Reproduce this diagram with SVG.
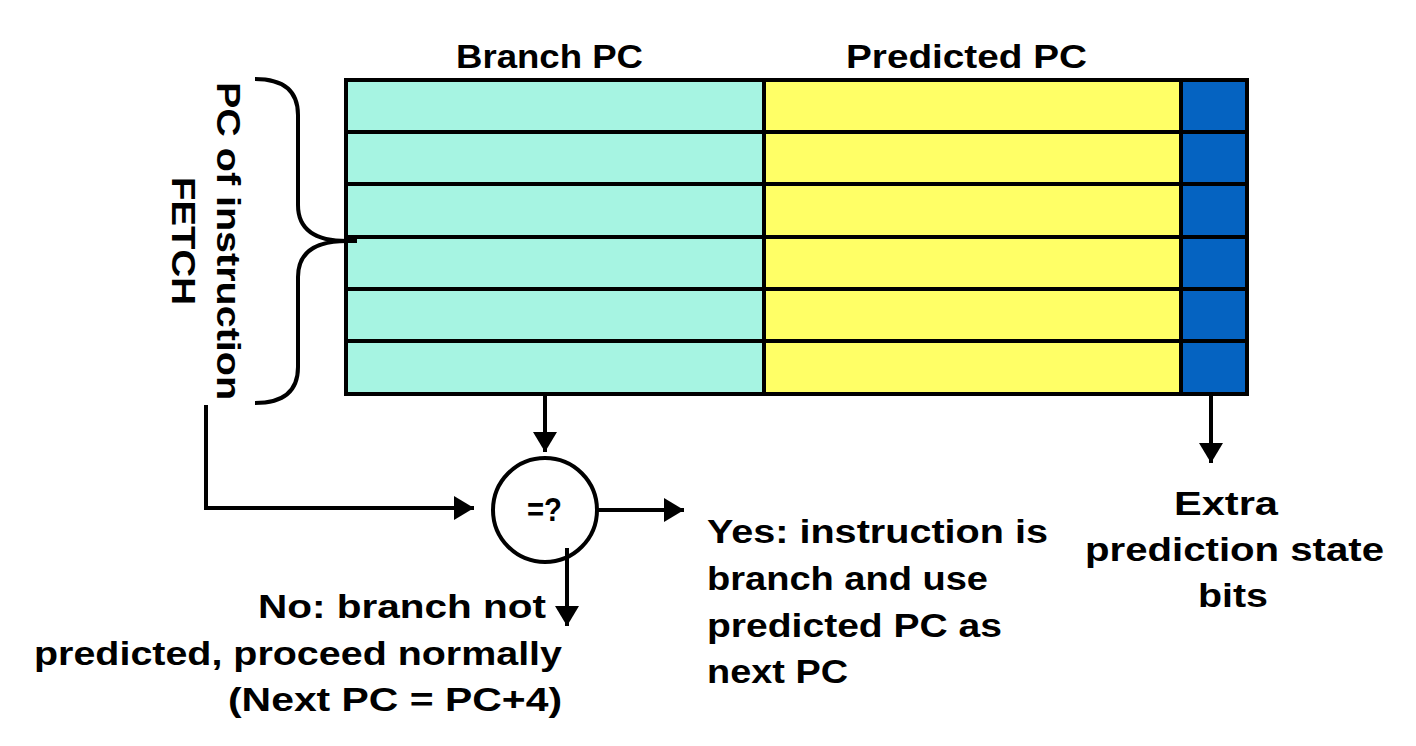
<svg xmlns="http://www.w3.org/2000/svg" width="1416" height="746" viewBox="0 0 1416 746">
<defs>
<style>
.t{font-family:"Liberation Sans","DejaVu Sans",sans-serif;font-weight:bold;font-size:33px;fill:#000}
.ln{stroke:#000;stroke-width:4;fill:none}
.cell{stroke:#000;stroke-width:4}
.teal{fill:#A6F4E2}
.yel{fill:#FFFF66}
.blue{fill:#0563C1}
</style>
<marker id="ah" markerWidth="6" markerHeight="6" refX="5" refY="3" orient="auto" markerUnits="strokeWidth">
<path d="M0,0 L5,3 L0,6 z" fill="#000"/>
</marker>
</defs>
<rect width="1416" height="746" fill="#fff"/>

<g id="table">
<rect class="teal" x="346" y="80" width="418" height="314"/>
<rect class="yel" x="764" y="80" width="417" height="314"/>
<rect class="blue" x="1181" y="80" width="66" height="314"/>
<rect class="cell" x="346" y="80" width="901" height="314" fill="none"/>
<path class="ln" d="M346,132H1247M346,184H1247M346,237H1247M346,289H1247M346,341H1247M764,80V394M1181,80V394"/>
</g>

<g id="headers">
<text class="t" x="456" y="68" textLength="187" lengthAdjust="spacingAndGlyphs">Branch PC</text>
<text class="t" x="846" y="68" textLength="241" lengthAdjust="spacingAndGlyphs">Predicted PC</text>
</g>

<g id="brace">
<path class="ln" d="M255,79 Q298,79 298,115 L298,205 Q298,241 347,241 L357,241 M347,241 Q298,241 298,277 L298,367 Q298,403 255,403"/>
<g transform="translate(217,241) rotate(90)">
<text class="t" x="-159" y="0" textLength="318" lengthAdjust="spacingAndGlyphs">PC of instruction</text>
<text class="t" x="-64" y="45" textLength="128" lengthAdjust="spacingAndGlyphs">FETCH</text>
</g>
</g>

<g id="compare">
<circle cx="545" cy="510" r="52" fill="#fff" stroke="#000" stroke-width="4"/>
<text class="t" x="527" y="521" textLength="35" lengthAdjust="spacingAndGlyphs">=?</text>
</g>

<g id="connectors">
<path class="ln" d="M545,394 V452" marker-end="url(#ah)"/>
<path class="ln" d="M206,405 V508 H474" marker-end="url(#ah)"/>
<path class="ln" d="M598,510 H684" marker-end="url(#ah)"/>
<path class="ln" d="M567,548 V626" marker-end="url(#ah)"/>
<path class="ln" d="M1211,394 V463" marker-end="url(#ah)"/>
</g>

<g id="yes-label">
<text class="t" x="707" y="543" textLength="341" lengthAdjust="spacingAndGlyphs">Yes: instruction is</text>
<text class="t" x="707" y="590" textLength="281" lengthAdjust="spacingAndGlyphs">branch and use</text>
<text class="t" x="707" y="637" textLength="295" lengthAdjust="spacingAndGlyphs">predicted PC as</text>
<text class="t" x="707" y="683" textLength="141" lengthAdjust="spacingAndGlyphs">next PC</text>
</g>

<g id="no-label">
<text class="t" x="258" y="618" textLength="288" lengthAdjust="spacingAndGlyphs">No: branch not</text>
<text class="t" x="34" y="665" textLength="528" lengthAdjust="spacingAndGlyphs">predicted, proceed normally</text>
<text class="t" x="228" y="711" textLength="334" lengthAdjust="spacingAndGlyphs">(Next PC = PC+4)</text>
</g>

<g id="extra-label">
<text class="t" x="1174" y="515" textLength="104" lengthAdjust="spacingAndGlyphs">Extra</text>
<text class="t" x="1085" y="561" textLength="299" lengthAdjust="spacingAndGlyphs">prediction state</text>
<text class="t" x="1198" y="607" textLength="70" lengthAdjust="spacingAndGlyphs">bits</text>
</g>
</svg>
